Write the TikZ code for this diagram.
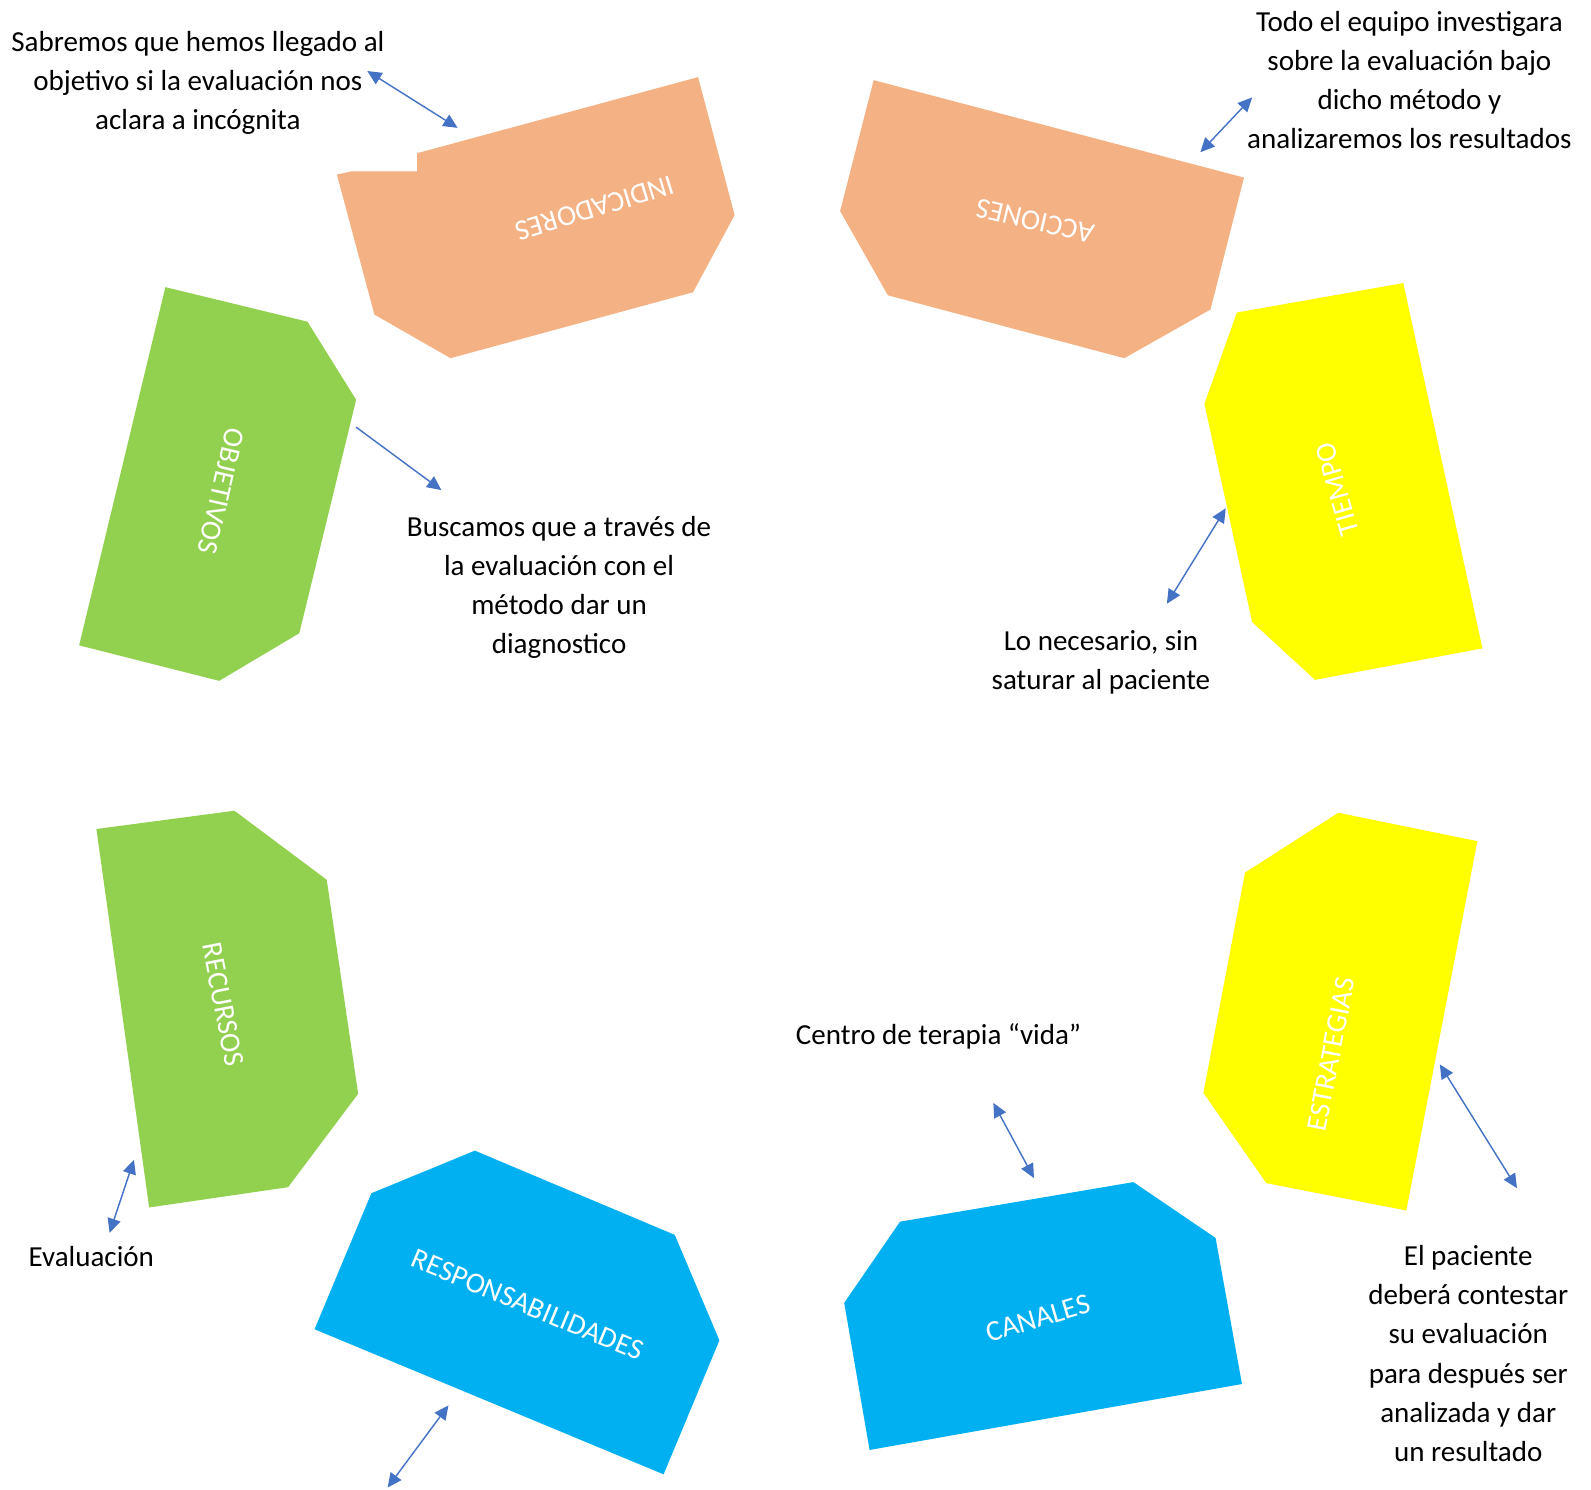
\documentclass[tikz,border=0pt]{standalone}
\usepackage{fontspec}
\setmainfont{Carlito}
\usetikzlibrary{arrows.meta}
\definecolor{orangeS}{HTML}{F4B183}
\definecolor{greenS}{HTML}{92D050}
\definecolor{yellowS}{HTML}{FFFF00}
\definecolor{blueS}{HTML}{00B0F0}
\definecolor{arrowC}{HTML}{4472C4}
\tikzset{
  shapeorange/.style={fill=orangeS,draw=none},
  shapegreen/.style={fill=greenS,draw=none},
  shapeyellow/.style={fill=yellowS,draw=none},
  shapeblue/.style={fill=blueS,draw=none},
  lbl/.style={text=white,font=\fontsize{14.3}{17}\selectfont,inner sep=0pt},
  body/.style={text=black,align=center,font=\fontsize{14.3}{19.3}\selectfont,inner sep=0pt},
  conn/.style={draw=arrowC,line width=0.7pt,-{Triangle[length=7pt,width=6.5pt]}},
  conn2/.style={draw=arrowC,line width=0.7pt,{Triangle[length=7pt,width=6.5pt]}-{Triangle[length=7pt,width=6.5pt]}}
}
\begin{document}
\begin{tikzpicture}[x=0.5pt,y=-0.5pt]
\useasboundingbox (0,0) rectangle (1568,1468);
% shapes
\fill[shapeorange] (332,172) -- (346,169) -- (411,169) -- (411,151) -- (688,76) -- (724,212) -- (683,288) -- (444,353) -- (369,310) -- cycle;
\fill[shapeorange] (861,79) -- (1226,175) -- (1193,305) -- (1108,353) -- (875,291) -- (828,208) -- cycle;
\fill[shapegreen] (163,283) -- (303,317) -- (351,394) -- (295,624) -- (216,671) -- (78,636) -- cycle;
\fill[shapeyellow] (1219,308) -- (1383,279) -- (1461,639) -- (1296,670) -- (1234,613) -- (1187,398) -- cycle;
\fill[shapegreen] (95,817) -- (231,799) -- (322,867) -- (353,1078) -- (284,1170) -- (147,1190) -- cycle;
\fill[shapeyellow] (1227,860) -- (1319,801) -- (1456,829) -- (1386,1193) -- (1248,1166) -- (1186,1077) -- cycle;
\fill[shapeblue] (366,1176) -- (468,1134) -- (665,1217) -- (709,1321) -- (654,1453) -- (310,1310) -- cycle;
\fill[shapeblue] (887,1204) -- (1117,1165) -- (1198,1220) -- (1224,1364) -- (857,1429) -- (832,1284) -- cycle;
% labels
\node[lbl,rotate=197] (indicadores) at (586,205) {INDICADORES};
\node[lbl,rotate=167] (acciones) at (1020,218) {ACCIONES};
\node[lbl,rotate=257] (objetivos) at (218,484) {OBJETIVOS};
\node[lbl,rotate=106] (tiempo) at (1318,482) {TIEMPO};
\node[lbl,rotate=281] (recursos) at (220,990) {RECURSOS};
\node[lbl,rotate=79] (estrategias) at (1312,1039) {ESTRATEGIAS};
\node[lbl,rotate=-22.6] (responsabilidades) at (520,1286) {RESPONSABILIDADES};
\node[lbl,rotate=16.4] (canales) at (1023,1299) {CANALES};
% body texts
\node[body] (t1) at (195,82) {Sabremos que hemos llegado al\\objetivo si la evaluación nos\\aclara a incógnita};
\node[body] (t2) at (1389,79) {Todo el equipo investigara\\sobre la evaluación bajo\\dicho método y\\analizaremos los resultados};
\node[body] (t3) at (551,579) {Buscamos que a través de\\la evaluación con el\\método dar un\\diagnostico};
\node[body] (t4) at (1085,653) {Lo necesario, sin\\saturar al paciente};
\node[body] (t5) at (925,1021) {Centro de terapia “vida”};
\node[body] (t6) at (90,1238) {Evaluación};
\node[body] (t7) at (1447,1334) {El paciente\\deberá contestar\\su evaluación\\para después ser\\analizada y dar\\un resultado};
% connector ends
\coordinate (a1s) at (362,70); \coordinate (a1e) at (451,126);
\coordinate (a2s) at (1234,96); \coordinate (a2e) at (1183,150);
\coordinate (a3s) at (351,421); \coordinate (a3e) at (435,483);
\coordinate (a4s) at (1208,501); \coordinate (a4e) at (1150,595);
\coordinate (a5s) at (132,1143); \coordinate (a5e) at (108,1215);
\coordinate (a6s) at (979,1087); \coordinate (a6e) at (1019,1161);
\coordinate (a7s) at (1419,1049); \coordinate (a7e) at (1495,1171);
\coordinate (a8s) at (442,1385); \coordinate (a8e) at (382,1466);
\draw[conn2] (a1s) -- (a1e);
\draw[conn2] (a2s) -- (a2e);
\draw[conn] (a3s) -- (a3e);
\draw[conn2] (a4s) -- (a4e);
\draw[conn2] (a5s) -- (a5e);
\draw[conn2] (a6s) -- (a6e);
\draw[conn2] (a7s) -- (a7e);
\draw[conn2] (a8s) -- (a8e);
\end{tikzpicture}
\end{document}
